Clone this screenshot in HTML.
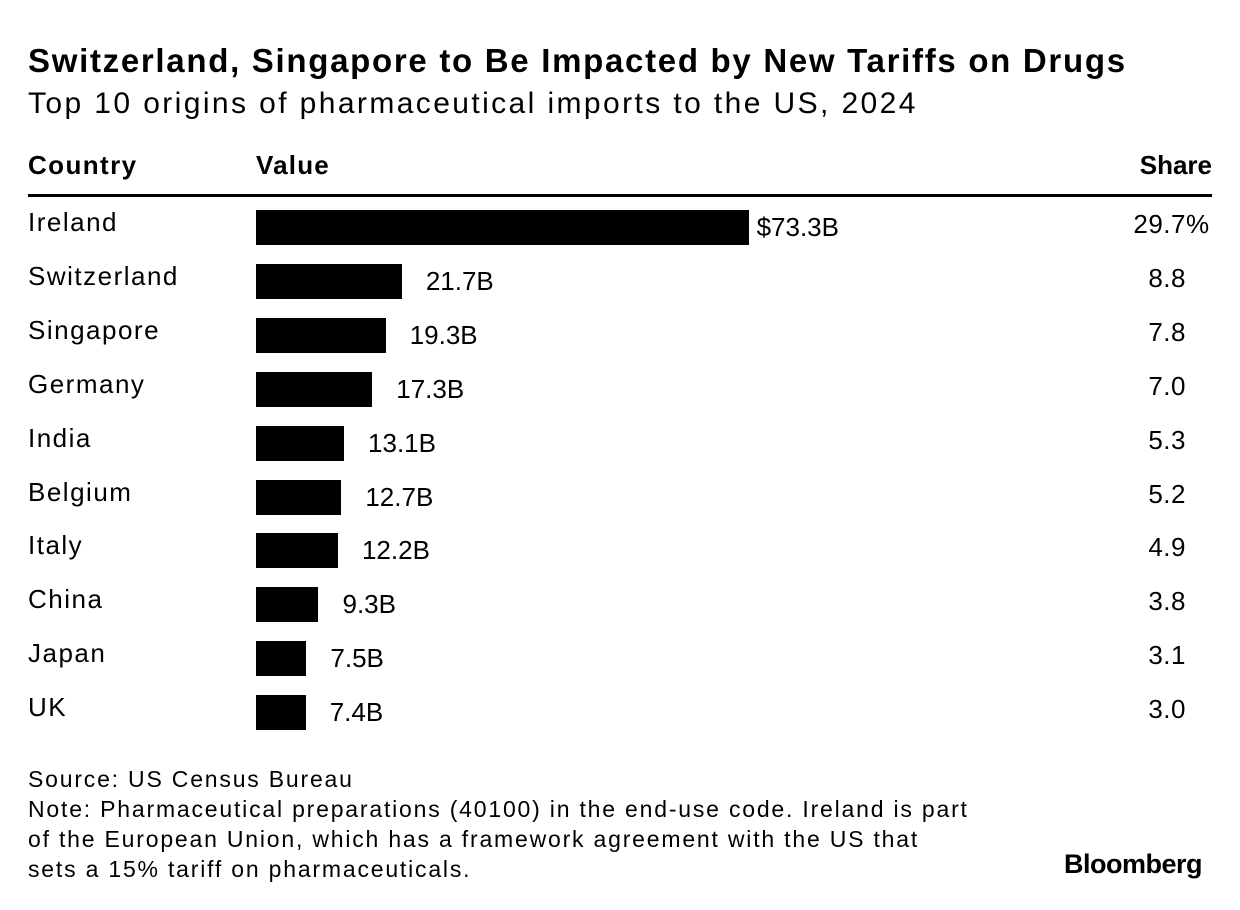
<!DOCTYPE html>
<html><head><meta charset="utf-8"><style>
body{margin:0;width:1240px;height:910px;background:#fff;font-family:"Liberation Sans",sans-serif;color:#000;position:relative;overflow:hidden}
.t{position:absolute;white-space:nowrap}
</style></head><body>
<div class="t" style="left:28px;top:42px;font-size:33px;font-weight:bold;letter-spacing:1.7px">Switzerland, Singapore to Be Impacted by New Tariffs on Drugs</div>
<div class="t" style="left:28px;top:87px;font-size:30px;letter-spacing:2.4px">Top 10 origins of pharmaceutical imports to the US, 2024</div>
<div class="t" style="left:28px;top:150px;font-size:26px;font-weight:bold;letter-spacing:1.4px">Country</div>
<div class="t" style="left:256px;top:150px;font-size:26px;font-weight:bold;letter-spacing:1.2px">Value</div>
<div class="t" style="right:28px;top:150px;font-size:26px;font-weight:bold">Share</div>
<div style="position:absolute;left:28px;top:194px;width:1184px;height:3px;background:#000"></div>
<div id="rows"></div>
<div class="t" style="left:28px;top:764px;font-size:23px;line-height:30px;letter-spacing:1.8px">Source: US Census Bureau<br>Note: Pharmaceutical preparations (40100) in the end-use code. Ireland is part<br>of the European Union, which has a framework agreement with the US that<br>sets a 15% tariff on pharmaceuticals.</div>
<div class="t" style="right:38px;top:849px;font-size:27px;font-weight:bold;letter-spacing:-0.5px">Bloomberg</div>
<script>
const countries=["Ireland","Switzerland","Singapore","Germany","India","Belgium","Italy","China","Japan","UK"];
const values=[73.3,21.7,19.3,17.3,13.1,12.7,12.2,9.3,7.5,7.4];
const shares=[29.7,8.8,7.8,7.0,5.3,5.2,4.9,3.8,3.1,3.0];
const root=document.getElementById('rows');
const x0=256,scale=6.72,y0=210,step=53.9,bh=35;
function xs(v){return v*scale;}
countries.forEach((c,i)=>{
  const y=y0+i*step;
  const n=document.createElement('div');n.className='t';
  
  
  n.style.cssText=`left:28px;top:${y-3}px;font-size:26px;letter-spacing:1.5px`;n.textContent=c;root.appendChild(n);
  const b=document.createElement('div');
  
  
  const w=xs(values[i]);
  b.style.cssText=`position:absolute;left:${x0}px;top:${y}px;width:${w}px;height:${bh}px;background:#000`;root.appendChild(b);
  const l=document.createElement('div');l.className='t';
  
  
  l.style.cssText=`left:${x0+w+(i==0?8:24)}px;top:${y+2}px;font-size:26px`;
  l.textContent=(i==0?'$':'')+values[i].toFixed(1)+'B';root.appendChild(l);
  const s=document.createElement('div');s.className='t';
  
  
  s.style.cssText=`right:${1240-1186}px;top:${y-1}px;font-size:26px;letter-spacing:0.5px`;
  s.textContent=shares[i].toFixed(1);
  if(i==0){const p=document.createElement('span');p.textContent='%';p.style.cssText='position:absolute;left:100%';s.appendChild(p);}
  root.appendChild(s);
});
</script>
</body></html>
